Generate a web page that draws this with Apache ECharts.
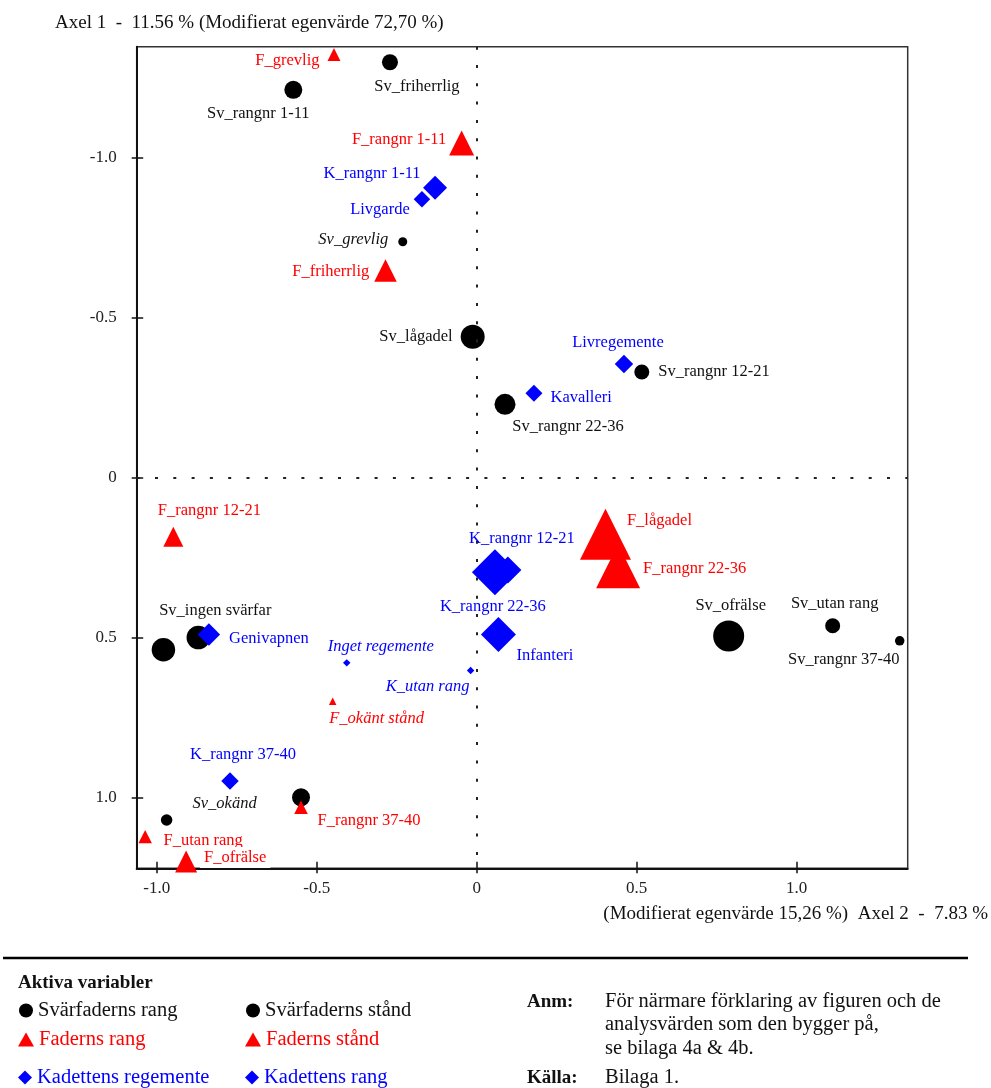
<!DOCTYPE html>
<html><head><meta charset="utf-8">
<script src="https://cdn.jsdelivr.net/npm/echarts@6/dist/echarts.min.js"></script>
<style>html,body{margin:0;padding:0;background:#fff}#c{width:991px;height:1088px}</style>
</head><body><div id="c"></div>
<script>
// ---------- data ----------
const tickValues = [-1, -0.5, 0, 0.5, 1];
const tickLabels = ['-1.0', '-0.5', '0', '0.5', '1.0'];
const xRange = [-1.0625, 1.347];
const yRange = [-1.3456, 1.222];

// Svärfaderns rang (black circles)
const svRangNames = ['Sv_rangnr 1-11', 'Sv_rangnr 12-21', 'Sv_rangnr 22-36', 'Sv_rangnr 37-40', 'Sv_utan rang', 'Sv_ingen svärfar', 'Sv_okänd'];
const svRangX = [-0.573, 0.516, 0.0885, 1.322, 1.1125, -0.870, -0.549];
const svRangY = [-1.211, -0.329, -0.228, 0.511, 0.464, 0.501, 1.000];
const svRangW = [3.24, 2.25, 4.41, 0.90, 2.25, 5.52, 3.24];

// Svärfaderns stånd (black circles)
const svStandNames = ['Sv_grevlig', 'Sv_friherrlig', 'Sv_lågadel', 'Sv_ofrälse', 'Sv_ingen svärfar', 'Sv_okänd'];
const svStandX = [-0.231, -0.271, -0.0125, 0.7875, -0.979, -0.969];
const svStandY = [-0.736, -1.297, -0.439, 0.496, 0.539, 1.071];
const svStandW = [0.81, 2.56, 5.76, 9.61, 5.52, 1.32];

// Faderns rang (red triangles)
const fRangNames = ['F_rangnr 1-11', 'F_rangnr 12-21', 'F_rangnr 22-36', 'F_rangnr 37-40', 'F_utan rang'];
const fRangX = [-0.047, -0.948, 0.442, -0.549, -1.036];
const fRangY = [-1.045, 0.186, 0.278, 1.031, 1.123];
const fRangW = [6.25, 4.00, 19.36, 1.82, 1.82];

// Faderns stånd (red triangles)
const fStandNames = ['F_grevlig', 'F_friherrlig', 'F_lågadel', 'F_ofrälse', 'F_okänt stånd'];
const fStandX = [-0.446, -0.285, 0.4025, -0.908, -0.450];
const fStandY = [-1.321, -0.646, 0.178, 1.201, 0.700];
const fStandW = [1.69, 5.06, 26.01, 4.84, 0.56];

// Kadettens regemente (blue diamonds)
const kRegNames = ['Livgarde', 'Livregemente', 'Kavalleri', 'Infanteri', 'Genivapnen', 'Inget regemente'];
const kRegX = [-0.171, 0.4603, 0.179, 0.068, -0.837, -0.406];
const kRegY = [-0.869, -0.354, -0.2625, 0.491, 0.491, 0.580];
const kRegW = [2.72, 3.42, 2.89, 12.25, 5.06, 0.56];

// Kadettens rang (blue diamonds)
const kRangNames = ['K_rangnr 1-11', 'K_rangnr 22-36', 'K_rangnr 12-21', 'K_rangnr 37-40', 'K_utan rang'];
const kRangX = [-0.130, 0.0975, 0.057, -0.771, -0.019];
const kRangY = [-0.905, 0.290, 0.2966, 0.949, 0.604];
const kRangW = [5.76, 7.29, 21.16, 3.06, 0.56];

// ---------- styling ----------
const FONT = 'Liberation Serif';
const BLACK = '#000000', RED = '#ff0000', BLUE = '#0000ff';
const LABEL_FS = 16.5;
const sizeOf = w => 10 * Math.sqrt(w);

// label placement: ['c', dx, dy] = text centre offset from mark centre;
// ['left'|'right', gap, dy] = text beside mark
const labelPlace = {
  'Sv_friherrlig': ['c', 27, 24],
  'Sv_rangnr 1-11': ['c', -35, 24],
  'Sv_grevlig': ['left', 10, -2],
  'Sv_lågadel': ['left', 8, 0],
  'Sv_rangnr 12-21': ['right', 9, 0],
  'Sv_rangnr 22-36': ['c', 63, 22],
  'Sv_ingen svärfar': ['c', 17, -27],
  'Sv_ofrälse': ['c', 2, -30],
  'Sv_utan rang': ['c', 2, -22],
  'Sv_rangnr 37-40': ['c', -56, 19],
  'Sv_okänd': ['c', 58, -16],
  'F_grevlig': ['left', 8, 6],
  'F_rangnr 1-11': ['left', 3, -3],
  'F_friherrlig': ['left', 5, 1],
  'F_rangnr 12-21': ['c', 36, -26],
  'F_lågadel': ['c', 54, -14],
  'F_rangnr 22-36': ['right', 3, 2],
  'F_okänt stånd': ['c', 44, 17],
  'F_rangnr 37-40': ['c', 68, 13],
  'F_utan rang': ['c', 58, 4],
  'F_ofrälse': ['c', 49, -4],
  'K_rangnr 1-11': ['c', -63, -14],
  'Livgarde': ['c', -42, 10],
  'Livregemente': ['c', -6, -21],
  'Kavalleri': ['right', 8, 4],
  'K_rangnr 12-21': ['c', 27, -34],
  'K_rangnr 22-36': ['c', -15, 37],
  'Infanteri': ['c', 46.5, 21],
  'Genivapnen': ['right', 9, 4.5],
  'Inget regemente': ['c', 34, -16],
  'K_utan rang': ['c', -43, 16],
  'K_rangnr 37-40': ['c', 13, -26]
};
const italicLabels = new Set(['Sv_grevlig', 'Sv_okänd', 'F_okänt stånd', 'Inget regemente', 'K_utan rang']);
const hiddenLabels = new Set(['Svärfaderns stånd|Sv_ingen svärfar', 'Svärfaderns rang|Sv_okänd']);
const whiteBgLabels = new Set(['F_ofrälse']);

function labelFor(seriesName, n, color, s) {
  if (hiddenLabels.has(seriesName + '|' + n)) return { show: false };
  const p = labelPlace[n] || ['right', 5, 0];
  const base = {
    show: true, formatter: n, color: color,
    fontFamily: FONT, fontSize: LABEL_FS,
    fontStyle: italicLabels.has(n) ? 'italic' : 'normal',
    verticalAlign: 'middle'
  };
  if (whiteBgLabels.has(n)) { base.backgroundColor = '#fff'; base.padding = [1, 4, 3, 4]; }
  if (p[0] === 'c') {
    base.position = [s / 2 + p[1], s / 2 + p[2]]; base.align = 'center';
  } else if (p[0] === 'left') {
    base.position = [-p[1], s / 2 + p[2]]; base.align = 'right';
  } else {
    base.position = [s + p[1], s / 2 + p[2]]; base.align = 'left';
  }
  return base;
}

function makeSeries(name, symbol, color, names, xs, ys, ws, z) {
  return {
    type: 'scatter', name: name, symbol: symbol, z: z, clip: false,
    itemStyle: { color: color, opacity: 1 },
    emphasis: { disabled: true },
    labelLayout: { hideOverlap: false },
    data: names.map((n, i) => {
      const s = sizeOf(ws[i]);
      return {
        name: n, value: [xs[i], ys[i]], symbolSize: s,
        label: labelFor(name, n, color === BLACK ? '#111' : color, s)
      };
    })
  };
}

const series = [
  makeSeries('Svärfaderns rang', 'circle', BLACK, svRangNames, svRangX, svRangY, svRangW, 3),
  makeSeries('Svärfaderns stånd', 'circle', BLACK, svStandNames, svStandX, svStandY, svStandW, 3),
  makeSeries('Faderns rang', 'triangle', RED, fRangNames, fRangX, fRangY, fRangW, 4),
  makeSeries('Faderns stånd', 'triangle', RED, fStandNames, fStandX, fStandY, fStandW, 4),
  makeSeries('Kadettens regemente', 'diamond', BLUE, kRegNames, kRegX, kRegY, kRegW, 5),
  makeSeries('Kadettens rang', 'diamond', BLUE, kRangNames, kRangX, kRangY, kRangW, 5)
];
series[0].markLine = {
  silent: true, symbol: 'none', animation: false,
  label: { show: false },
  lineStyle: { color: '#222', width: 2, type: [3, 15.3] },
  emphasis: { disabled: true },
  data: [{ xAxis: 0 }, { yAxis: 0 }]
};

const tickFmt = v => { const i = tickValues.findIndex(t => Math.abs(t - v) < 1e-9); return i >= 0 ? tickLabels[i] : ''; };
const axisBase = { type: 'value', splitLine: { show: false } };
const xAxes = [
  Object.assign({}, axisBase, {
    min: xRange[0], max: xRange[1], position: 'bottom',
    axisLine: { show: true, onZero: false, lineStyle: { color: '#111', width: 2 } },
    axisTick: { show: true, inside: false, length: 5, customValues: tickValues, lineStyle: { color: '#111', width: 1.5 } },
    axisLabel: { show: true, customValues: tickValues, formatter: tickFmt, margin: 12, color: '#222', fontFamily: FONT, fontSize: 17 }
  }),
  Object.assign({}, axisBase, {
    min: xRange[0], max: xRange[1], position: 'bottom',
    axisLine: { show: false, onZero: false },
    axisTick: { show: true, inside: true, length: 6.5, customValues: tickValues, lineStyle: { color: '#111', width: 1.5 } },
    axisLabel: { show: false }
  })
];
const yAxes = [
  Object.assign({}, axisBase, {
    min: yRange[0], max: yRange[1], inverse: true, position: 'left',
    axisLine: { show: true, onZero: false, lineStyle: { color: '#111', width: 2 } },
    axisTick: { show: true, inside: false, length: 5, customValues: tickValues, lineStyle: { color: '#111', width: 1.5 } },
    axisLabel: { show: true, customValues: tickValues, formatter: tickFmt, margin: 20, color: '#222', fontFamily: FONT, fontSize: 17 }
  }),
  Object.assign({}, axisBase, {
    min: yRange[0], max: yRange[1], inverse: true, position: 'left',
    axisLine: { show: false, onZero: false },
    axisTick: { show: true, inside: true, length: 6.5, customValues: tickValues, lineStyle: { color: '#111', width: 1.5 } },
    axisLabel: { show: false }
  })
];

function oneLegend(name, icon, color, left, top, w, h) {
  return {
    show: true, left: left, top: top, padding: 0, itemGap: 0,
    itemWidth: w, itemHeight: h, icon: icon, selectedMode: false,
    data: [name], textStyle: { fontFamily: FONT, fontSize: 20.5, color: color }
  };
}
const legends = [
  oneLegend('Svärfaderns rang', 'circle', '#111', 19, 1000, 14, 14),
  oneLegend('Svärfaderns stånd', 'circle', '#111', 246, 1000, 14, 14),
  oneLegend('Faderns rang', 'triangle', RED, 18, 1029, 16, 14),
  oneLegend('Faderns stånd', 'triangle', RED, 245, 1029, 16, 14),
  oneLegend('Kadettens regemente', 'diamond', BLUE, 18, 1067, 14, 14),
  oneLegend('Kadettens rang', 'diamond', BLUE, 245, 1067, 14, 14)
];

function txt(text, x, y, opts) {
  return {
    type: 'text', x: x, y: y, silent: true,
    style: Object.assign({
      text: text, fill: '#111', fontFamily: FONT, fontSize: 18,
      textAlign: 'left', textVerticalAlign: 'middle'
    }, opts || {})
  };
}
const graphics = [
  txt('Axel 1  -  11.56 % (Modifierat egenvärde 72,70 %)', 55, 23, { fontSize: 19 }),
  txt('(Modifierat egenvärde 15,26 %)  Axel 2  -  7.83 %', 988, 914, { fontSize: 19, textAlign: 'right' }),
  { type: 'line', silent: true, shape: { x1: 3, y1: 958, x2: 968, y2: 958 }, style: { stroke: '#000', lineWidth: 2.5 } },
  txt('Aktiva variabler', 18, 983, { fontWeight: 'bold', fontSize: 19 }),
  txt('Anm:', 527, 1002, { fontWeight: 'bold', fontSize: 19 }),
  txt('För närmare förklaring av figuren och de', 605, 1002, { fontSize: 20.5 }),
  txt('analysvärden som den bygger på,', 605, 1025, { fontSize: 20.5 }),
  txt('se bilaga 4a & 4b.', 605, 1049, { fontSize: 20.5 }),
  txt('Källa:', 527, 1078, { fontWeight: 'bold', fontSize: 19 }),
  txt('Bilaga 1.', 605, 1078, { fontSize: 20.5 })
];

const chart = echarts.init(document.getElementById('c'), null, { renderer: 'canvas' });
chart.setOption({
  animation: false,
  backgroundColor: '#fff',
  textStyle: { fontFamily: FONT },
  grid: {
    left: 136.7, right: 83.3, top: 46.7, bottom: 219.7,
    show: true, borderColor: '#333', borderWidth: 1.5, backgroundColor: 'transparent',
    outerBoundsMode: 'none', containLabel: false
  },
  xAxis: xAxes,
  yAxis: yAxes,
  legend: legends,
  tooltip: { show: false },
  series: series,
  graphic: graphics
});
</script></body></html>
